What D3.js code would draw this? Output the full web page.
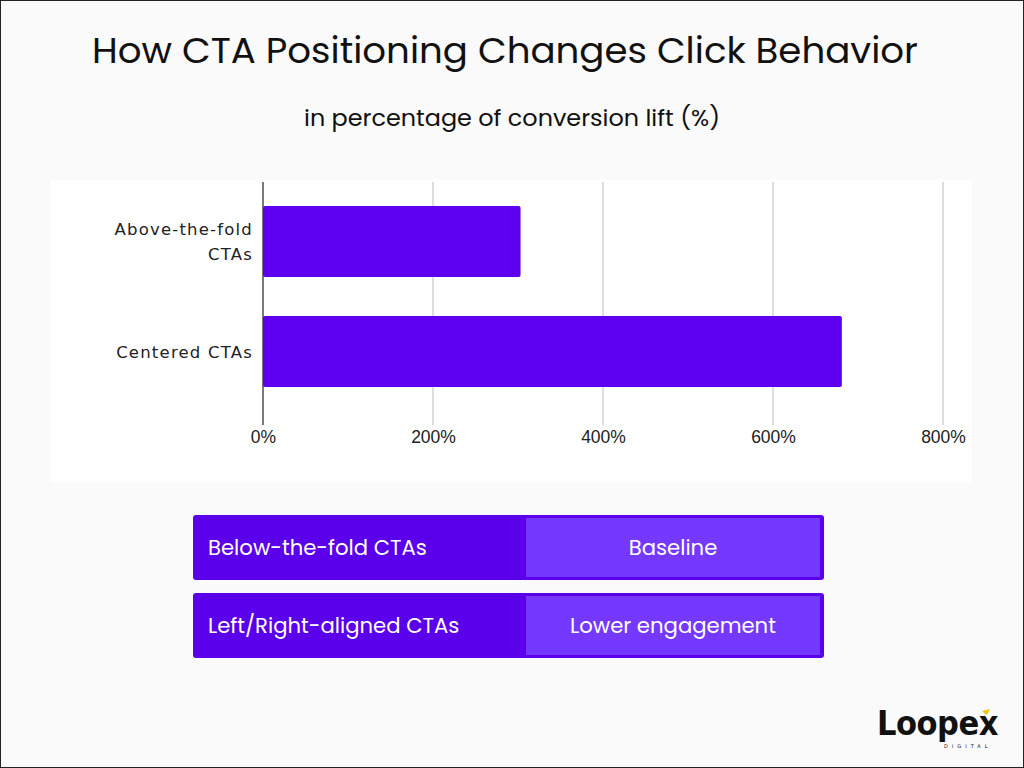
<!DOCTYPE html>
<html>
<head>
<meta charset="utf-8">
<script src="https://cdn.jsdelivr.net/npm/d3@7"></script>
<style>
html,body{margin:0;padding:0;background:#fafafa;}
svg{display:block;}
</style>
</head>
<body>
<script>
// ---- data ----
const categories = ["Above-the-fold CTAs", "Centered CTAs"];
const categoryLines = [["Above-the-fold", "CTAs"], ["Centered CTAs"]];
const liftValues = [303, 681];
const xTicks = [0, 200, 400, 600, 800];
const tableLabels = ["Below-the-fold CTAs", "Left/Right-aligned CTAs"];
const tableValues = ["Baseline", "Lower engagement"];
const titleText = "How CTA Positioning Changes Click Behavior";
const subtitleText = "in percentage of conversion lift (%)";

const W = 1024, H = 768;
const svg = d3.select("body").append("svg").attr("width", W).attr("height", H);

// page background + border
svg.append("rect").attr("x", 0.5).attr("y", 0.5).attr("width", W - 1).attr("height", H - 1)
  .attr("fill", "#fafafa").attr("stroke", "#222").attr("stroke-width", 1);

const headFont = "Poppins, 'Open Sans', Lato, sans-serif";

svg.append("text").attr("x", 505).attr("y", 63).attr("text-anchor", "middle")
  .attr("font-family", headFont).attr("font-size", 35).attr("fill", "#111")
  .attr("textLength", 826).attr("lengthAdjust", "spacingAndGlyphs")
  .text(titleText);

svg.append("text").attr("x", 512).attr("y", 126).attr("text-anchor", "middle")
  .attr("font-family", headFont).attr("font-size", 23).attr("fill", "#111")
  .attr("textLength", 416).attr("lengthAdjust", "spacingAndGlyphs")
  .text(subtitleText);

// chart panel
svg.append("rect").attr("x", 50).attr("y", 180).attr("width", 922).attr("height", 302).attr("fill", "#ffffff");

const x = d3.scaleLinear().domain([0, 800]).range([263, 943]);
// bars at 206 and 316 with bandwidth 71
const yb = d3.scaleBand().domain(categories).range([206, 387]).paddingInner((110 - 71) / 110).paddingOuter(0);

// gridlines
svg.append("g").selectAll("line").data(xTicks.filter(d => d > 0)).join("line")
  .attr("x1", d => x(d)).attr("x2", d => x(d))
  .attr("y1", 182).attr("y2", 425)
  .attr("stroke", "#cccccc").attr("stroke-width", 1.3);

// bars
svg.append("g").selectAll("rect").data(categories).join("rect")
  .attr("x", x(0)).attr("y", d => yb(d))
  .attr("width", (d, i) => x(liftValues[i]) - x(0))
  .attr("height", yb.bandwidth())
  .attr("rx", 2).attr("fill", "#5e00ef");

// zero axis line
svg.append("line").attr("x1", x(0)).attr("x2", x(0)).attr("y1", 182).attr("y2", 425)
  .attr("stroke", "#333").attr("stroke-width", 1.3);

// x tick labels via axis
const xAxis = d3.axisBottom(x).tickValues(xTicks).tickFormat(d => d + "%").tickSize(0).tickPadding(0);
const gx = svg.append("g").attr("transform", "translate(0,439)").call(xAxis);
gx.select(".domain").remove();
gx.selectAll("text").attr("font-family", "'Liberation Sans', Arial, sans-serif")
  .attr("font-size", 17.5).attr("fill", "#222").attr("dy", "0.2em");

// category labels
const catG = svg.append("g");
categories.forEach((c, i) => {
  const lines = categoryLines[i];
  const cy = yb(c) + yb.bandwidth() / 2;
  const lh = 25;
  const t = catG.append("text").attr("text-anchor", "end")
    .attr("font-family", "'DejaVu Sans', sans-serif").attr("font-size", 16.5)
    .attr("letter-spacing", 1.2).attr("fill", "#222");
  lines.forEach((ln, j) => {
    t.append("tspan").attr("x", 253)
      .attr("y", cy + (j - (lines.length - 1) / 2) * lh + 6).text(ln);
  });
});

// table
const rowY = d3.scaleBand().domain(tableLabels).range([515, 658]).paddingInner(13 / 78).paddingOuter(0);
const rows = svg.append("g").selectAll("g").data(tableLabels).join("g")
  .attr("transform", d => `translate(0,${rowY(d)})`);
const rh = rowY.bandwidth();
rows.append("rect").attr("x", 193).attr("y", 0).attr("width", 631).attr("height", rh)
  .attr("rx", 3).attr("fill", "#5b00ea");
rows.append("rect").attr("x", 526).attr("y", 3).attr("width", 294).attr("height", rh - 6)
  .attr("fill", "#7438ff");
rows.append("text").attr("x", 208).attr("y", rh / 2 + 7.5)
  .attr("font-family", headFont).attr("font-size", 21.2).attr("fill", "#ffffff")
  .text(d => d);
rows.append("text").attr("x", 673).attr("y", rh / 2 + 7.5).attr("text-anchor", "middle")
  .attr("font-family", headFont).attr("font-size", 21.2).attr("fill", "#ffffff")
  .text((d, i) => tableValues[i]);

// logo
const logo = svg.append("g");
logo.append("text").attr("x", 877).attr("y", 735)
  .attr("font-family", "'DejaVu Sans Condensed', 'DejaVu Sans', sans-serif").attr("font-weight", "bold")
  .attr("font-size", 34).attr("letter-spacing", -0.5).attr("fill", "#111")
  .text("Loopex");
logo.append("path").attr("d", "M982,711 l8,-2 l-3,6 z").attr("fill", "#f5c400");
logo.append("text").attr("x", 944).attr("y", 748)
  .attr("font-family", "'DejaVu Sans', sans-serif").attr("font-size", 5)
  .attr("letter-spacing", 4).attr("fill", "#111").text("DIGITAL");
</script>
</body>
</html>
